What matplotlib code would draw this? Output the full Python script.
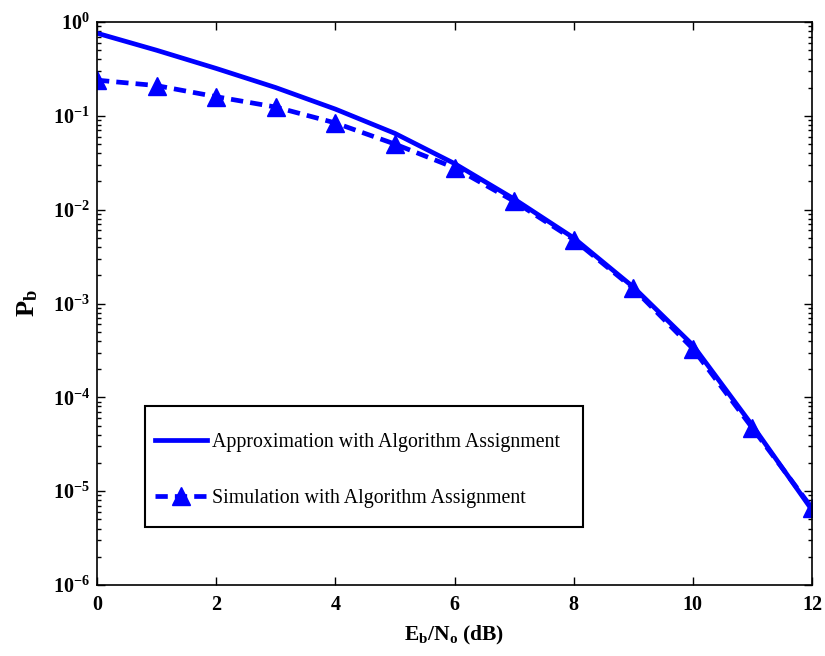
import numpy as np
import matplotlib.pyplot as plt
from matplotlib.patches import Rectangle
from matplotlib.ticker import FixedLocator, LogLocator, NullFormatter

plt.rcParams['font.family'] = ['Liberation Serif', 'DejaVu Serif']
plt.rcParams['mathtext.fontset'] = 'custom'
plt.rcParams['mathtext.rm'] = 'Liberation Serif'
plt.rcParams['mathtext.bf'] = 'Liberation Serif:bold'
plt.rcParams['mathtext.it'] = 'Liberation Serif:italic'

# Eb/No in dB
snr_db = [0, 1, 2, 3, 4, 5, 6, 7, 8, 9, 10, 11, 12]

# bit error probability, analytic approximation
pb_approx = [0.76, 0.50, 0.32, 0.20, 0.118, 0.065, 0.031, 0.013, 0.0050,
             1.5e-3, 3.6e-4, 5.0e-5, 6.3e-6]

# bit error probability, simulated
pb_sim = [0.24, 0.21, 0.16, 0.124, 0.084, 0.050, 0.028, 0.0123, 0.0048,
          1.45e-3, 3.3e-4, 4.7e-5, 6.6e-6]

fig = plt.figure(figsize=(8.25, 6.56), dpi=100)
ax = fig.add_axes([97 / 825, 1 - 585 / 656, 715 / 825, 563 / 656])

ax.semilogy(snr_db, pb_approx, '-', color='#0000ff', lw=3.4,
            label='Approximation with Algorithm Assignment')
ax.semilogy(snr_db, pb_sim, '--', color='#0000ff', lw=3.4, dashes=(2.6, 1.5),
            marker='^', ms=13, label='Simulation with Algorithm Assignment')

ax.set_xlim(0, 12)
ax.set_ylim(1e-6, 1e0)
ax.xaxis.set_major_locator(FixedLocator([0, 2, 4, 6, 8, 10, 12]))
ax.yaxis.set_major_locator(FixedLocator([10.0 ** k for k in range(-6, 1)]))
ax.set_yticklabels([r'$\mathbf{10^{%d}}$' % k for k in range(-6, 1)])
ax.yaxis.set_minor_locator(LogLocator(base=10, subs=np.arange(2, 10)))
ax.yaxis.set_minor_formatter(NullFormatter())

ax.tick_params(which='both', direction='in', top=True, right=True,
               width=1.0, labelsize=14.5)
ax.tick_params(which='major', length=6)
ax.tick_params(which='minor', length=3)
ax.tick_params(axis='x', pad=7)
ax.tick_params(axis='y', pad=5)
for lab in ax.get_xticklabels():
    lab.set_fontweight('bold')
for sp in ax.spines.values():
    sp.set_linewidth(1.2)

ax.set_xlabel(r'$\mathbf{E_b/N_o}$ (dB)', fontsize=15.5, fontweight='bold',
              labelpad=7)
ax.set_ylabel(r'$\mathbf{P_b}$', fontsize=19, labelpad=9)

# legend box
ax.add_patch(Rectangle((0.067, 0.103), 0.613, 0.215, transform=ax.transAxes,
                       facecolor='white', edgecolor='black', lw=1.5,
                       zorder=4))
leg = ax.legend(loc='center left', bbox_to_anchor=(0.081, 0.203),
                fontsize=14.3, handlelength=2.6, handletextpad=0.25,
                labelspacing=1.85, borderpad=0, frameon=False,
                borderaxespad=0)
leg.set_zorder(5)

fig.savefig('out.png', dpi=100)
